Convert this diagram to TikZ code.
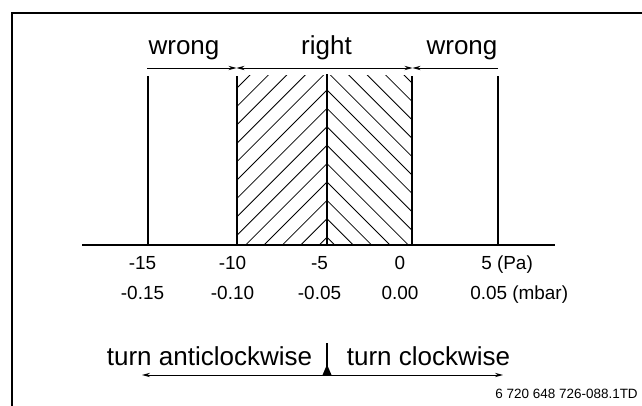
\documentclass[tikz,border=0pt]{standalone}
\usepackage{fontspec}
\setmainfont{Liberation Sans}
\usetikzlibrary{arrows.meta}
\newcommand{\AxisY}{245}
\newcommand{\BarTop}{76}
\newcommand{\RangeY}{68}
\newcommand{\TurnY}{375}
\newcommand{\MidX}{327}
\newcommand{\HatchStep}{18.4}
\colorlet{ScaleColor}{black}

\tikzset{
  frameline/.style={ScaleColor, line width=1.8pt},
  barline/.style={ScaleColor, line width=1pt},
  midline/.style={ScaleColor, line width=2pt},
  hatchline/.style={ScaleColor, line width=0.6pt},
  rangetip/.style={ScaleColor, line width=0.6pt, -{Stealth[length=6pt,width=3.2pt]}},
  bigtext/.style={font=\fontsize{19.5}{23}\selectfont, anchor=base, inner sep=0pt},
  ticktext/.style={font=\fontsize{14.2}{17}\selectfont, anchor=base, inner sep=0pt},
  codetext/.style={font=\fontsize{10.1}{12}\selectfont, anchor=base east, inner sep=0pt},
}

\begin{document}
\begin{tikzpicture}[x=0.75pt, y=-0.75pt]
		\useasboundingbox (0,0) rectangle (642,406);
		
		\draw[frameline] (12,406) -- (12,12.8) -- (642,12.8);
		
		\foreach \xb [count=\i] in {148,237,327,412,498}{
			\coordinate (b\i) at (\xb,\AxisY);
			\coordinate (t\i) at (\xb,\BarTop);
		}
		\coordinate (axl) at (82,\AxisY);
		\coordinate (axr) at (555,\AxisY);
		
		% hatching
		\begin{scope}
			\clip (t2) rectangle (b3);
			\foreach \k in {-6,...,9}{
				\pgfmathsetmacro{\yk}{90+\k*\HatchStep}
				\draw[hatchline] (\MidX,\yk) -- ++(-100,100);
			}
		\end{scope}
		\begin{scope}
			\clip (t3) rectangle (b4);
			\foreach \k in {-6,...,9}{
				\pgfmathsetmacro{\yk}{90+\k*\HatchStep}
				\draw[hatchline] (\MidX,\yk) -- ++(100,100);
			}
		\end{scope}
		
		\draw[barline] (axl) -- (axr);
		\foreach \i in {1,2,4,5}{
			\draw[barline] (b\i) -- (t\i);
		}
		\draw[midline] (b3) -- ([yshift=1.5pt]t3);
		
		% ranges
		\coordinate (r1) at (147,\RangeY);
		\coordinate (r2) at (236.5,\RangeY);
		\coordinate (r3) at (412.5,\RangeY);
		\coordinate (r4) at (498,\RangeY);
		\draw[rangetip] (r1) -- (r2);
		\draw[rangetip, {Stealth[length=6pt,width=3.2pt]}-{Stealth[length=6pt,width=3.2pt]}] (r2) -- (r3);
		\draw[rangetip] (r4) -- (r3);
		
		\node[bigtext] (wrongl) at (184,55) {wrong};
		\node[bigtext] (rightr) at (326.5,55) {right};
		\node[bigtext] (wrongr) at (462,55) {wrong};
		
		\foreach \lx/\pa/\mb [count=\i] in {142.5/-15/-0.15, 232.5/-10/-0.10, 319.5/-5/-0.05, 400/0/0.00}{
			\node[ticktext] (pa\i) at (\lx,269) {\pa};
			\node[ticktext] (mb\i) at (\lx,299) {\mb};
		}
		\node[ticktext, anchor=base west] (pa5) at (481,269) {5 (Pa)};
		\node[ticktext, anchor=base west] (mb5) at (470,299) {0.05 (mbar)};
		
		% turning direction
		\coordinate (pivot) at (\MidX,\TurnY);
		\coordinate (pivottop) at (\MidX,343);
		\coordinate (turnl) at (142,\TurnY);
		\coordinate (turnr) at (503,\TurnY);
		\draw[rangetip] (pivot) -- (turnl);
		\draw[rangetip] (pivot) -- (turnr);
		\draw[ScaleColor, line width=0.8pt] (pivottop) -- (pivot);
		\fill[ScaleColor] (pivot) ++(-4.5,0) -- ++(9,0) -- ++(-4.5,-10.5) -- cycle;
		
		\node[bigtext] (anticw) at (209.5,365) {turn anticlockwise};
		\node[bigtext] (cw) at (428.5,365) {turn clockwise};
		
		\node[codetext] (code) at (638,398) {6 720 648 726-088.1TD};
	\end{tikzpicture}
\end{document}
